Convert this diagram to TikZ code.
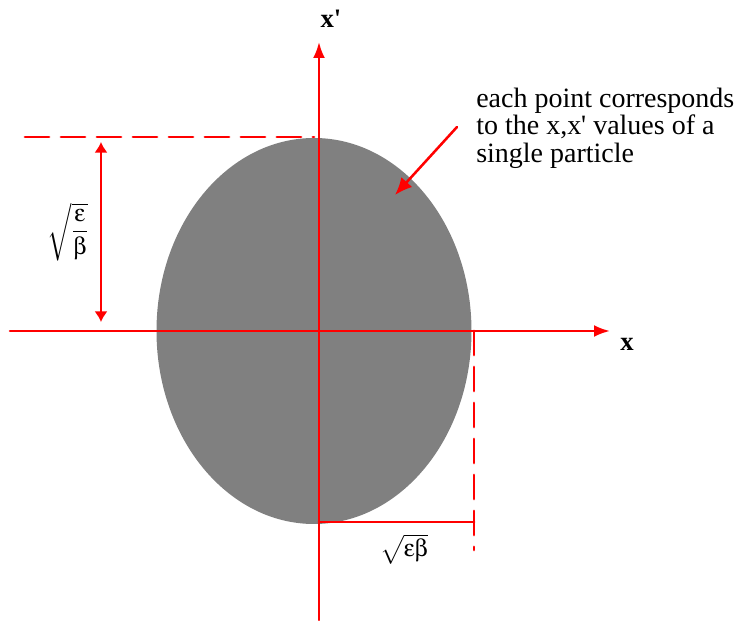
\documentclass[tikz,border=0pt]{standalone}
\usepackage{mathptmx}
\usepackage[Symbol]{upgreek}
\usepackage{fontspec}
\setmainfont{Liberation Serif}
\newfontfamily\timesfont{Liberation Serif}
\usepackage{tikz}
\usetikzlibrary{arrows.meta}
\usepackage{tkz-euclide}
\tikzset{
  axis/.style={red, line width=1.9pt, -{Latex[length=12pt,width=9pt]}},
  guide/.style={red, line width=2.2pt, dash pattern=on 18pt off 9pt},
  edge/.style={red, line width=2.2pt},
  span/.style={red, line width=1.5pt, {Latex[length=8pt,width=10pt]}-{Latex[length=8pt,width=10pt]}},
  pointer/.style={red, line width=1.9pt, -{Latex[length=13pt,width=11pt]}},
  axislabel/.style={font=\timesfont\fontsize{20}{24}\selectfont\bfseries, inner sep=0pt},
  quantity/.style={font=\timesfont\fontsize{18}{22}\selectfont, inner sep=0pt},
  note/.style={font=\timesfont\fontsize{21}{20.6}\selectfont, align=left, inner sep=0pt, anchor=west}
}

\begin{document}
\begin{tikzpicture}[scale=1.3182]
            \useasboundingbox (-6.38,-5.8) rectangle (8.46,6.62);
            \tkzDefPoints{-6.18/0/L, 5.82/0/R, 0/-5.78/D, 0/5.78/U, -0.1/0/C}
            \tkzDefPoints{-5.88/3.88/T, -0.1/3.88/E, -4.36/3.78/H, -4.36/0.18/G}
            \tkzDefPoints{3.1/0/S, 3.1/-4.38/V, 0/-3.82/B, 3.1/-3.82/K}
            \tkzDefPoints{2.76/4.08/P, 1.52/2.72/Q}
            \fill[black!50] (C) ellipse [x radius=3.15, y radius=3.86];
            \tkzDrawSegment[guide](T,E)
            \tkzDrawSegment[guide](S,V)
            \tkzDrawSegment[edge](B,K)
            \tkzDrawSegment[axis](L,R)
            \tkzDrawSegment[axis](D,U)
            \tkzDrawSegment[span](H,G)
            \tkzDrawSegment[pointer](P,Q)
            \node[axislabel] (xlab) at (6.16,-0.27) {x};
            \node[axislabel] (xplab) at (0.24,6.24) {x\textquotesingle};
            \node[quantity] (height) at (-5.02,1.98) {$\displaystyle\sqrt{\frac{\upvarepsilon}{\upbeta}}$};
            \node[quantity] (width) at (1.7,-4.36) {$\sqrt{\upvarepsilon\upbeta}$};
            \node[note] (remark) at (3.14,4.06) {each point corresponds\\to the x,x\textquotesingle{} values of a\\single particle};
        \end{tikzpicture}
\end{document}
